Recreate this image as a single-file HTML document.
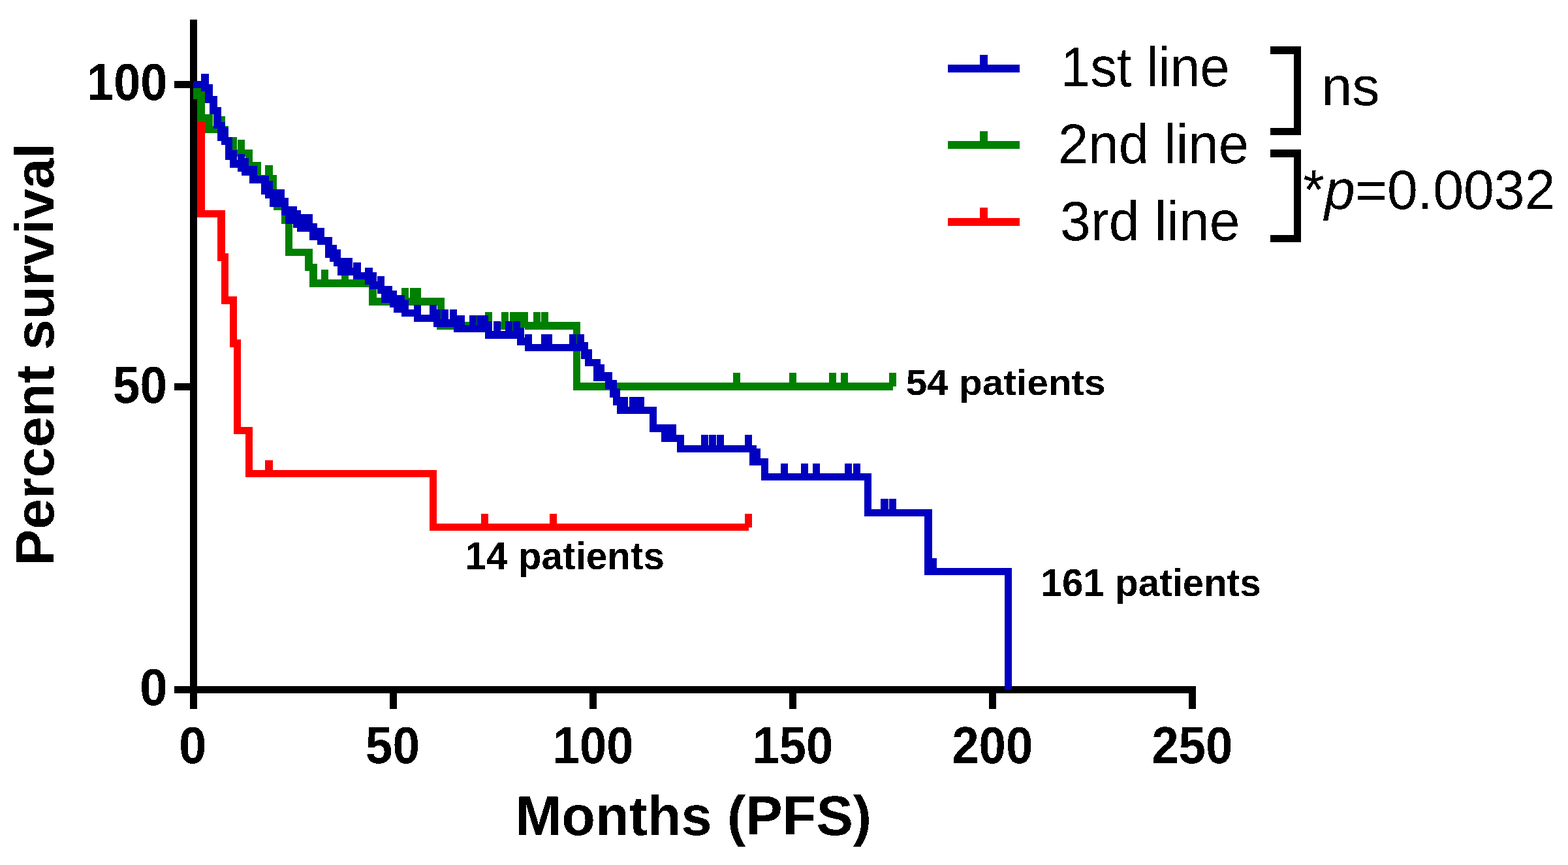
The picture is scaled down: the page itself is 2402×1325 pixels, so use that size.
<!DOCTYPE html><html><head><meta charset="utf-8"><style>html,body{margin:0;padding:0;background:#fff;overflow:hidden}svg{display:block}</style></head><body><svg width="2402" height="1325" viewBox="0 0 2402 1325" shape-rendering="crispEdges">
<rect width="2402" height="1325" fill="#fff"/>
<g fill="#000">
<rect x="291" y="30" width="11" height="1056"/>
<rect x="291" y="1051" width="1541" height="11"/>
<rect x="267" y="124" width="24" height="11"/>
<rect x="267" y="587" width="24" height="11"/>
<rect x="267" y="1051" width="24" height="11"/>
<rect x="291" y="1062" width="11" height="24"/>
<rect x="597" y="1062" width="11" height="24"/>
<rect x="903" y="1062" width="11" height="24"/>
<rect x="1209" y="1062" width="11" height="24"/>
<rect x="1515" y="1062" width="11" height="24"/>
<rect x="1821" y="1062" width="11" height="24"/>
</g>
<path d="M296 129.5H308V327.5H339V394H344.5V460H357.5V526H363.5V659.5H381.5V725.5H663.5V807.5H1147" fill="none" stroke="#ff0000" stroke-width="11.3" stroke-linejoin="miter" stroke-linecap="butt"/>
<g fill="#ff0000"><rect x="406.35" y="704.50" width="11.3" height="21"/><rect x="736.85" y="786.50" width="11.3" height="21"/><rect x="841.85" y="786.50" width="11.3" height="21"/><rect x="1140.85" y="786.50" width="11.3" height="21"/></g>
<path d="M296 129.5H302V146.5H308V180.5H320V198.5H344.5V216H350.5V234.5H381.5V253.5H394.5V273.5H418.5V295.5H424.5V316.5H436.5V337.5H442.5V386.5H473V409.5H480V434H571V462H675V499H883.5V592H1368" fill="none" stroke="#008000" stroke-width="11.3" stroke-linejoin="miter" stroke-linecap="butt"/>
<g fill="#008000"><rect x="333.85" y="177.50" width="11.3" height="21"/><rect x="351.35" y="210.00" width="11.3" height="21"/><rect x="363.85" y="213.50" width="11.3" height="21"/><rect x="406.35" y="252.50" width="11.3" height="21"/><rect x="491.85" y="413.00" width="11.3" height="21"/><rect x="522.85" y="413.00" width="11.3" height="21"/><rect x="614.85" y="441.00" width="11.3" height="21"/><rect x="627.85" y="441.00" width="11.3" height="21"/><rect x="633.85" y="441.00" width="11.3" height="21"/><rect x="742.85" y="478.00" width="11.3" height="21"/><rect x="767.85" y="478.00" width="11.3" height="21"/><rect x="780.85" y="478.00" width="11.3" height="21"/><rect x="786.85" y="478.00" width="11.3" height="21"/><rect x="791.85" y="478.00" width="11.3" height="21"/><rect x="797.85" y="478.00" width="11.3" height="21"/><rect x="816.85" y="478.00" width="11.3" height="21"/><rect x="828.85" y="478.00" width="11.3" height="21"/><rect x="1122.85" y="571.00" width="11.3" height="21"/><rect x="1208.85" y="571.00" width="11.3" height="21"/><rect x="1269.85" y="571.00" width="11.3" height="21"/><rect x="1287.85" y="571.00" width="11.3" height="21"/><rect x="1361.85" y="571.00" width="11.3" height="21"/></g>
<polygon points="296,124 308,124 308,113 320,113 320,129 326,129 326,147 333,147 333,164 339,164 339,187 345,187 345,195 350,195 350,210 356,210 356,230 363,230 363,236 375,236 375,242 381,242 381,254 394,254 394,269 412,269 412,277 418,277 418,290 436,290 436,303 442,303 442,316 455,316 455,322 461,322 461,328 479,328 479,342 486,342 486,349 497,349 497,363 509,363 509,375 516,375 516,382 522,382 522,395 540,395 540,402 553,402 553,417 559,417 559,410 571,410 571,417 577,417 577,423 589,423 589,438 601,438 601,445 608,445 608,452 620,452 620,459 626,459 626,474 634,474 634,467 645,467 645,482 658,482 658,467 669,467 669,474 700,474 700,483 712,483 712,498 719,498 719,483 748,483 748,492 767,492 767,507 774,507 774,492 797,492 797,502 804,502 804,512 815,512 815,527 829,527 829,512 846,512 846,527 872,527 872,512 895,512 895,524 901,524 901,535 907,535 907,550 920,550 920,558 926,558 926,570 938,570 938,582 945,582 945,595 950,595 950,608 987,608 987,623 1006,623 1006,650 1036,650 1036,666 1048,666 1048,682 1074,682 1074,666 1109,666 1109,682 1141,682 1141,666 1152,666 1152,682 1159,682 1159,687 1165,687 1165,702 1177,702 1177,725 1196,725 1196,710 1207,710 1207,725 1227,725 1227,710 1238,710 1238,725 1245,725 1245,710 1256,710 1256,725 1294,725 1294,710 1318,710 1318,725 1335,725 1335,780 1349,780 1349,764 1373,764 1373,780 1428,780 1428,855 1435,855 1435,870 1550,870 1550,1057 1539,1057 1539,881 1416,881 1416,791 1324,791 1324,736 1166,736 1166,713 1148,713 1148,693 1037,693 1037,677 1013,677 1013,662 995,662 995,634 945,634 945,621 939,621 939,609 934,609 934,596 927,596 927,584 909,584 909,561 896,561 896,550 890,550 890,538 804,538 804,529 792,529 792,519 743,519 743,509 695,509 695,501 664,501 664,493 634,493 634,485 615,485 615,479 603,479 603,471 597,471 597,464 584,464 584,450 578,450 578,443 566,443 566,436 559,436 559,428 541,428 541,422 517,422 517,408 511,408 511,401 505,401 505,395 498,395 498,375 486,375 486,368 474,368 474,355 455,355 455,349 449,349 449,343 437,343 437,330 431,330 431,317 413,317 413,304 406,304 406,298 400,298 400,281 382,281 382,269 370,269 370,263 364,263 364,257 352,257 352,245 345,245 345,222 339,222 339,216 333,216 333,197 327,197 327,175 321,175 321,158 314,158 314,140 308,140 308,135 296,135" fill="#0000c0"/>
<rect x="363" y="230" width="1" height="10" fill="#008000"/>
<rect x="363" y="240" width="1" height="5" fill="#fff"/>
<rect x="577" y="417" width="1" height="14" fill="#fff"/>
<rect x="540" y="395" width="1" height="15" fill="#fff"/>
<rect x="669" y="468" width="1" height="6" fill="#fff"/>
<rect x="675" y="474" width="1" height="15" fill="#008000"/>
<rect x="687" y="474" width="2" height="15" fill="#fff"/>
<rect x="730" y="483" width="1" height="15" fill="#008000"/>
<rect x="754" y="492" width="2" height="15" fill="#fff"/>
<rect x="785" y="492" width="1" height="15" fill="#008000"/>
<rect x="803" y="502" width="1" height="15" fill="#fff"/>
<rect x="883" y="512" width="1" height="15" fill="#008000"/>
<rect x="962" y="608" width="2" height="15" fill="#fff"/>
<rect x="1085" y="666" width="1" height="16" fill="#fff"/>
<rect x="1097" y="666" width="1" height="16" fill="#fff"/>
<rect x="1305" y="710" width="2" height="15" fill="#fff"/>
<rect x="1361" y="764" width="1" height="16" fill="#fff"/>
<rect x="1452" y="99" width="110" height="12" fill="#0000c0"/>
<rect x="1501" y="84" width="12" height="16" fill="#0000c0"/>
<rect x="1452" y="216" width="110" height="12" fill="#008000"/>
<rect x="1501" y="201" width="12" height="16" fill="#008000"/>
<rect x="1452" y="333.5" width="110" height="12" fill="#ff0000"/>
<rect x="1501" y="318" width="12" height="16.5" fill="#ff0000"/>
<g fill="#000">
<rect x="1946" y="71" width="47" height="12"/>
<rect x="1982" y="71" width="11" height="136"/>
<rect x="1946" y="196" width="47" height="11"/>
<rect x="1946" y="229" width="47" height="12"/>
<rect x="1982" y="229" width="11" height="141.5"/>
<rect x="1946" y="359.5" width="47" height="11"/>
</g>
<defs><filter id="crisp" x="0" y="0" width="2402" height="1325" filterUnits="userSpaceOnUse" color-interpolation-filters="sRGB"><feComponentTransfer><feFuncA type="discrete" tableValues="0 1"/></feComponentTransfer></filter></defs>
<g shape-rendering="auto" filter="url(#crisp)">
<g transform="matrix(0.98706 0 0 0.98589 1.061 11.947)"><text font-family="Liberation Sans, Arial, sans-serif" font-weight="bold" font-size="85" transform="translate(82 867) rotate(-90)">Percent survival</text></g>
<g transform="matrix(0.96807 0 0 1.03519 7.111 -5.619)"><text font-family="Liberation Sans, Arial, sans-serif" font-weight="bold" font-size="76.5" x="130" y="152.8">100</text></g>
<g transform="matrix(0.97848 0 0 1.03704 6.523 -22.989)"><text font-family="Liberation Sans, Arial, sans-serif" font-weight="bold" font-size="76.5" x="170" y="617.3">50</text></g>
<g transform="matrix(1.00278 0 0 1.03704 1.403 -40.137)"><text font-family="Liberation Sans, Arial, sans-serif" font-weight="bold" font-size="76.5" x="212" y="1080.2">0</text></g>
<g transform="matrix(1.00000 0 0 1.03889 -1.000 -45.500)"><text font-family="Liberation Sans, Arial, sans-serif" font-weight="bold" font-size="76.5" x="275" y="1169">0</text></g>
<g transform="matrix(0.98101 0 0 1.03889 10.390 -45.600)"><text font-family="Liberation Sans, Arial, sans-serif" font-weight="bold" font-size="76.5" x="560" y="1169">50</text></g>
<g transform="matrix(0.96891 0 0 1.03889 27.060 -45.600)"><text font-family="Liberation Sans, Arial, sans-serif" font-weight="bold" font-size="76.5" x="846" y="1169">100</text></g>
<g transform="matrix(0.96891 0 0 1.03889 36.474 -45.600)"><text font-family="Liberation Sans, Arial, sans-serif" font-weight="bold" font-size="76.5" x="1152" y="1169">150</text></g>
<g transform="matrix(0.97273 0 0 1.03889 39.945 -45.600)"><text font-family="Liberation Sans, Arial, sans-serif" font-weight="bold" font-size="76.5" x="1458" y="1169">200</text></g>
<g transform="matrix(0.97355 0 0 1.03889 46.831 -45.600)"><text font-family="Liberation Sans, Arial, sans-serif" font-weight="bold" font-size="76.5" x="1764" y="1169">250</text></g>
<g transform="matrix(0.99554 0 0 0.99625 3.351 4.468)"><text font-family="Liberation Sans, Arial, sans-serif" font-weight="bold" font-size="85" x="790" y="1279.8">Months (PFS)</text></g>
<g transform="matrix(0.94962 0 0 0.99767 86.471 0.308)"><text font-family="Liberation Sans, Arial, sans-serif" font-size="86" x="1620" y="132.4">1st line</text></g>
<g transform="matrix(0.97007 0 0 0.99651 49.410 0.873)"><text font-family="Liberation Sans, Arial, sans-serif" font-size="86" x="1620" y="250.2">2nd line</text></g>
<g transform="matrix(0.97673 0 0 0.99651 41.672 1.284)"><text font-family="Liberation Sans, Arial, sans-serif" font-size="86" x="1620" y="368">3rd line</text></g>
<g transform="matrix(0.98171 0 0 0.96809 36.352 4.670)"><text font-family="Liberation Sans, Arial, sans-serif" font-size="86" x="2025" y="161">ns</text></g>
<g transform="matrix(0.97938 0 0 0.99744 42.275 -0.331)"><text font-family="Liberation Sans, Arial, sans-serif" font-size="86" x="1995" y="320.9">*<tspan font-style="italic">p</tspan>=0.0032</text></g>
<g transform="matrix(1.04583 0 0 1.00179 -61.817 -1.080)"><text font-family="Liberation Sans, Arial, sans-serif" font-weight="bold" font-size="56" x="1386" y="604.8">54 patients</text></g>
<g transform="matrix(1.04510 0 0 1.04464 -31.695 -38.929)"><text font-family="Liberation Sans, Arial, sans-serif" font-weight="bold" font-size="56" x="712" y="872">14 patients</text></g>
<g transform="matrix(1.04132 0 0 1.04107 -65.237 -36.982)"><text font-family="Liberation Sans, Arial, sans-serif" font-weight="bold" font-size="56" x="1594" y="912.6">161 patients</text></g>
</g>
</svg></body></html>
